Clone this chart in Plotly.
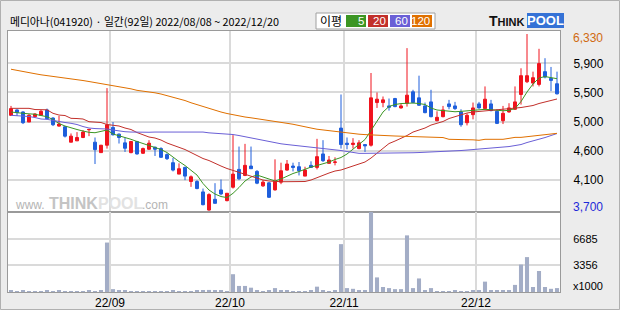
import pandas as pd
import plotly.graph_objects as go
from plotly.subplots import make_subplots

# ---------------- data ----------------
title_text = "메디아나(041920) · 일간(92일) 2022/08/08 ~ 2022/12/20"
holidays = ["2022-08-15", "2022-09-09", "2022-09-12", "2022-10-03", "2022-10-10"]
dates = [d for d in pd.bdate_range("2022-08-08", "2022-12-20") if d.strftime("%Y-%m-%d") not in holidays]

opens = [5120, 5200, 5170, 5020, 5100, 5120, 5200, 5080, 4960, 4950,
         4720, 4740, 4790, 4905, 4720, 4565, 4675, 4940, 4840, 4710,
         4565, 4730, 4555, 4615, 4645, 4625, 4535, 4415, 4245, 4345,
         4135, 4135, 3980, 3710, 3870, 4010, 3850, 4050, 4315, 4225,
         4365, 4285, 4070, 4115, 4010, 4125, 4305, 4365, 4355, 4215,
         4375, 4345, 4545, 4405, 4420, 4930, 4705, 4685, 4625, 4685,
         4675, 5310, 5310, 5260, 5370, 5230, 5300, 5470, 5380, 5260,
         5320, 5040, 5100, 5290, 5260, 5170, 5010, 5130, 5290, 5220,
         5290, 5180, 5040, 5170, 5210, 5430, 5620, 5600, 5580, 5770,
         5670, 5590]
highs = [5260, 5210, 5180, 5140, 5150, 5200, 5220, 5090, 5110, 4960,
         4850, 4870, 4900, 4910, 4790, 4680, 5525, 5020, 4850, 4790,
         4740, 4740, 4640, 4750, 4655, 4645, 4555, 4485, 4405, 4355,
         4225, 4155, 4030, 3960, 4110, 4165, 3960, 4825, 4655, 4695,
         4655, 4305, 4155, 4125, 4465, 4415, 4455, 4415, 4425, 4355,
         4435, 4770, 4750, 4515, 4495, 5430, 4790, 4780, 4750, 4685,
         5750, 5460, 5400, 5370, 5380, 5290, 6120, 5500, 5710, 5310,
         5500, 5180, 5260, 5350, 5320, 5210, 5150, 5310, 5320, 5550,
         5350, 5210, 5260, 5300, 5550, 5820, 6330, 5770, 6110, 5970,
         5840, 5770]
lows = [5110, 5110, 4990, 5020, 5090, 5110, 5060, 4960, 4950, 4790,
        4720, 4740, 4780, 4810, 4395, 4565, 4625, 4820, 4700, 4575,
        4555, 4535, 4545, 4605, 4515, 4485, 4455, 4285, 4245, 4155,
        4055, 4020, 3780, 3700, 3810, 3930, 3840, 4030, 4155, 4215,
        4325, 4095, 4055, 3890, 4000, 4095, 4295, 4285, 4225, 4215,
        4345, 4315, 4425, 4405, 4375, 4625, 4615, 4625, 4615, 4575,
        4655, 5230, 5240, 5190, 5240, 5220, 5250, 5300, 5260, 5150,
        5090, 5030, 5090, 5210, 5200, 4950, 4970, 5060, 5220, 5200,
        5180, 4990, 4990, 5160, 5200, 5280, 5600, 5550, 5550, 5670,
        5480, 5430]
closes = [5220, 5160, 5010, 5120, 5140, 5180, 5070, 4980, 4990, 4810,
          4810, 4790, 4870, 4910, 4610, 4675, 4980, 4830, 4790, 4630,
          4730, 4545, 4625, 4705, 4615, 4495, 4475, 4305, 4325, 4215,
          4205, 4030, 3790, 3940, 3810, 3950, 3960, 4245, 4175, 4375,
          4325, 4110, 4125, 3900, 4135, 4295, 4395, 4345, 4295, 4305,
          4345, 4505, 4445, 4455, 4425, 4685, 4685, 4705, 4710, 4665,
          5380, 5360, 5350, 5240, 5250, 5260, 5420, 5310, 5270, 5160,
          5100, 5090, 5200, 5250, 5220, 4980, 5120, 5230, 5230, 5360,
          5190, 5000, 5150, 5230, 5320, 5710, 5710, 5680, 5890, 5690,
          5640, 5440]
volumes = [130, 110, 150, 120, 100, 120, 140, 110, 130, 120,
           100, 110, 120, 130, 120, 140, 6200, 360, 220, 150,
           120, 110, 100, 120, 110, 100, 110, 130, 120, 110,
           120, 130, 250, 260, 250, 240, 120, 2230, 760, 760,
           540, 130, 120, 130, 490, 250, 250, 120, 110, 120,
           130, 670, 220, 120, 130, 6000, 490, 400, 250, 250,
           10030, 1830, 625, 490, 360, 360, 7100, 490, 1700, 250,
           490, 120, 110, 120, 130, 120, 110, 130, 140, 1300,
           250, 130, 250, 130, 890, 3440, 4375, 625, 2630, 625,
           400, 490]
ma5 = [5169, 5154, 5150, 5142, 5136, 5117, 5099, 5057, 4998, 4961,
       4931, 4909, 4886, 4867, 4861, 4879, 4901, 4842, 4815, 4797,
       4763, 4730, 4700, 4670, 4641, 4611, 4566, 4492, 4432, 4373,
       4306, 4231, 4105, 4008, 3948, 3911, 3896, 3959, 4045, 4142,
       4202, 4231, 4202, 4172, 4142, 4172, 4216, 4254, 4283, 4321,
       4350, 4373, 4395, 4425, 4462, 4492, 4544, 4618, 4678, 4760,
       4894, 5035, 5169, 5251, 5281, 5295, 5300, 5303, 5295, 5281,
       5229, 5199, 5191, 5179, 5173, 5179, 5187, 5196, 5202, 5209,
       5203, 5196, 5188, 5194, 5221, 5325, 5467, 5586, 5675, 5697,
       5683, 5665]
ma20 = [5224, 5224, 5224, 5224, 5206, 5206, 5202, 5150, 5124, 5117,
        5075, 5072, 5065, 5025, 5020, 5013, 4983, 4968, 4961, 4931,
        4909, 4864, 4827, 4797, 4782, 4752, 4708, 4678, 4648, 4611,
        4566, 4522, 4477, 4447, 4403, 4365, 4328, 4298, 4269, 4239,
        4209, 4179, 4157, 4142, 4132, 4132, 4132, 4132, 4132, 4135,
        4157, 4194, 4224, 4261, 4291, 4306, 4336, 4365, 4395, 4425,
        4484, 4559, 4626, 4700, 4737, 4775, 4819, 4871, 4901, 4931,
        4975, 4998, 5028, 5072, 5102, 5132, 5154, 5169, 5176, 5184,
        5191, 5199, 5206, 5214, 5221, 5236, 5251, 5266, 5296, 5318,
        5340, 5363]
ma60 = [5120, 5117, 5109, 5102, 5087, 5065, 5060, 5042, 5028, 5013,
        5001, 4983, 4953, 4931, 4923, 4922, 4916, 4901, 4886, 4876,
        4871, 4868, 4868, 4868, 4871, 4871, 4874, 4876, 4876, 4876,
        4876, 4874, 4871, 4859, 4852, 4849, 4849, 4834, 4819, 4801,
        4782, 4760, 4745, 4730, 4708, 4696, 4685, 4676, 4669, 4658,
        4648, 4640, 4629, 4618, 4606, 4596, 4581, 4566, 4554, 4554,
        4554, 4554, 4556, 4559, 4559, 4562, 4563, 4563, 4566, 4569,
        4574, 4577, 4581, 4586, 4589, 4596, 4603, 4611, 4618, 4626,
        4630, 4633, 4643, 4655, 4670, 4685, 4715, 4737, 4760, 4789,
        4819, 4849]
ma120 = [5806, 5787, 5772, 5757, 5739, 5723, 5712, 5702, 5690, 5675,
         5663, 5653, 5638, 5623, 5608, 5595, 5581, 5566, 5555, 5538,
         5514, 5492, 5482, 5468, 5455, 5437, 5415, 5392, 5368, 5340,
         5307, 5278, 5251, 5221, 5194, 5169, 5147, 5127, 5108, 5095,
         5083, 5071, 5059, 5047, 5028, 5013, 5001, 4987, 4972, 4953,
         4931, 4913, 4901, 4889, 4877, 4865, 4855, 4846, 4839, 4833,
         4827, 4822, 4818, 4813, 4812, 4809, 4806, 4801, 4797, 4792,
         4792, 4792, 4789, 4763, 4763, 4763, 4763, 4755, 4748, 4763,
         4763, 4763, 4763, 4777, 4792, 4792, 4804, 4812, 4819, 4834,
         4842, 4852]

price_tick_vals = [5894, 5460, 5026, 4592, 4158]
price_tick_text = ["5,900", "5,500", "5,000", "4,600", "4,100"]
price_high_label, price_low_label = "6,330", "3,700"
price_high, price_low = 6330, 3700
vol_tick_vals = [3356, 6685]
vol_tick_text = ["3356", "6685"]
vol_unit_label = "x1000"
ma_names = ["5", "20", "60", "120"]

# ---------------- styles ----------------
RED, BLUE = "#f0141e", "#1f5fdc"
MA_COLORS = ["#3c9624", "#c2302b", "#6a5fd6", "#e07000"]
VOL_COLOR = "#a3adc6"
GRID = "#dadada"
FRAME = "#9a9a9a"
BG = "#ececec"
FONT = "Liberation Sans, Arial, sans-serif"
KFONT = "Noto Sans CJK KR, sans-serif"

W, H = 620, 310
L, R, T, B = 8, 60, 31, 18
PW, PH = W - L - R, H - T - B
SPLIT = 212  # pixel y of border between price and volume panes


def PX(px):
    return (px - L) / PW


def PY(py):
    return (H - B - py) / PH


idx = list(range(len(dates)))
month_first = [i for i in idx if i == 0 or dates[i].month != dates[i - 1].month][1:]
month_labels = [dates[i].strftime("%y/%m") for i in month_first]
month_lines = [i - 0.5 for i in month_first]

fig = make_subplots(rows=2, cols=1, shared_xaxes=True, vertical_spacing=0)

fig.add_trace(go.Candlestick(
    x=idx, open=opens, high=highs, low=lows, close=closes,
    increasing=dict(line=dict(color=RED, width=1), fillcolor=RED),
    decreasing=dict(line=dict(color=BLUE, width=1), fillcolor=BLUE),
    whiskerwidth=0, showlegend=False, hoverinfo="skip"), row=1, col=1)

for name, vals, col in zip(ma_names, [ma5, ma20, ma60, ma120], MA_COLORS):
    fig.add_trace(go.Scatter(x=idx, y=vals, mode="lines", line=dict(color=col, width=1),
                             showlegend=False, hoverinfo="skip", name=name), row=1, col=1)

fig.add_trace(go.Bar(x=idx, y=volumes, marker=dict(color=VOL_COLOR, line=dict(width=0)),
                     width=0.68, showlegend=False, hoverinfo="skip"), row=2, col=1)

axis_common = dict(showline=True, linecolor=FRAME, linewidth=1, mirror=True, zeroline=False,
                   automargin=False)
fig.update_xaxes(range=[-0.5, len(idx) - 0.5], tickvals=month_lines, ticktext=month_labels,
                 showgrid=True, gridcolor=GRID, gridwidth=1.5, ticks="", rangeslider_visible=False,
                 tickfont=dict(family=FONT, size=12, color="#000"), **axis_common)
fig.update_xaxes(showticklabels=False, row=1, col=1)

split_frac = PY(SPLIT)
fig.update_yaxes(domain=[split_frac, 1], range=[3681, 6375], side="right",
                 tickvals=price_tick_vals, ticktext=price_tick_text, showgrid=True,
                 gridcolor=GRID, gridwidth=1.5, ticks="", ticklabelstandoff=10,
                 tickfont=dict(family=FONT, size=12, color="#000"), row=1, col=1, **axis_common)
fig.update_yaxes(domain=[0, split_frac], range=[0, max(volumes)], side="right",
                 tickvals=vol_tick_vals, ticktext=vol_tick_text, showgrid=True,
                 gridcolor=GRID, gridwidth=1.5, ticks="", ticklabelstandoff=10,
                 tickfont=dict(family=FONT, size=11, color="#000"), row=2, col=1, **axis_common)

ann = []
# high / low labels on price axis
ann.append(dict(x=PX(571), y=price_high, xref="paper", yref="y", text=price_high_label, showarrow=False,
                xanchor="left", yanchor="middle", yshift=-4, font=dict(family=FONT, size=12, color="#d06a10")))
ann.append(dict(x=PX(571), y=price_low, xref="paper", yref="y", text=price_low_label, showarrow=False,
                xanchor="left", yanchor="middle", yshift=4, font=dict(family=FONT, size=12, color="#1e2ad8")))
ann.append(dict(x=PX(571), y=0, xref="paper", yref="y2", text=vol_unit_label, showarrow=False,
                xanchor="left", yanchor="middle", yshift=6, font=dict(family=FONT, size=11, color="#000")))
# title
ann.append(dict(x=PX(8), y=PY(21), xref="paper", yref="paper", text=title_text, showarrow=False,
                xanchor="left", yanchor="middle", font=dict(family=KFONT, size=10.8, color="#000")))
# legend
ann.append(dict(x=PX(331), y=PY(21), xref="paper", yref="paper", text="이평", showarrow=False,
                xanchor="center", yanchor="middle", font=dict(family=KFONT, size=12, color="#000")))
shapes = [dict(type="rect", xref="paper", yref="paper", x0=PX(316), x1=PX(435), y0=PY(29), y1=PY(13),
               line=dict(color="#a0a0a0", width=1), fillcolor="#ffffff", layer="below")]
blocks = [(346, 366), (368, 388), (390, 410), (412, 432)]
for (a, b), col, name in zip(blocks, MA_COLORS, ma_names):
    shapes.append(dict(type="rect", xref="paper", yref="paper", x0=PX(a), x1=PX(b), y0=PY(27), y1=PY(15),
                       line=dict(width=0), fillcolor=col, layer="below"))
    ann.append(dict(x=PX(b), y=PY(21), xref="paper", yref="paper", text=name, showarrow=False,
                    xanchor="right", yanchor="middle", font=dict(family=FONT, size=11.5, color="#fff")))
# logo
shapes.append(dict(type="rect", xref="paper", yref="paper", x0=PX(527), x1=PX(564), y0=PY(28), y1=PY(13),
                   line=dict(width=0), fillcolor="#3572d6", layer="below"))
ann.append(dict(x=PX(527), y=PY(21), xref="paper", yref="paper",
                text="<b>T<span style='font-size:11px'>HINK</span></b>", showarrow=False,
                xanchor="right", yanchor="middle", font=dict(family=FONT, size=14, color="#111")))
ann.append(dict(x=PX(545.5), y=PY(21), xref="paper", yref="paper", text="<b>POOL</b>", showarrow=False,
                xanchor="center", yanchor="middle", font=dict(family=FONT, size=13, color="#fff")))
# watermark
ann.append(dict(x=PX(47), y=PY(205), xref="paper", yref="paper", text="www.", showarrow=False,
                xanchor="right", yanchor="middle", font=dict(family=FONT, size=12, color="#b4b4b4")))
ann.append(dict(x=PX(47), y=PY(203), xref="paper", yref="paper", text="<b>THINK</b>", showarrow=False,
                xanchor="left", yanchor="middle", font=dict(family=FONT, size=16, color="#c4c4c4")))
ann.append(dict(x=PX(96), y=PY(203), xref="paper", yref="paper", text="<b>POOL</b>", showarrow=False,
                xanchor="left", yanchor="middle", font=dict(family=FONT, size=16, color="#e2e2e2")))
ann.append(dict(x=PX(140), y=PY(205), xref="paper", yref="paper", text=".com", showarrow=False,
                xanchor="left", yanchor="middle", font=dict(family=FONT, size=12, color="#b4b4b4")))
# outer frame
shapes.append(dict(type="rect", xref="paper", yref="paper", x0=PX(0.5), x1=PX(619.5), y0=PY(309.5), y1=PY(0.5),
                   line=dict(color="#b0b0b0", width=1), fillcolor="rgba(0,0,0,0)", layer="below"))

fig.update_layout(width=W, height=H, margin=dict(l=L, r=R, t=T, b=B, pad=0, autoexpand=False),
                  paper_bgcolor=BG, plot_bgcolor="#ffffff", bargap=0.3, boxgap=0.3,
                  annotations=ann, shapes=shapes, showlegend=False,
                  font=dict(family=FONT, size=12, color="#000"))

fig.write_html("out.html")
